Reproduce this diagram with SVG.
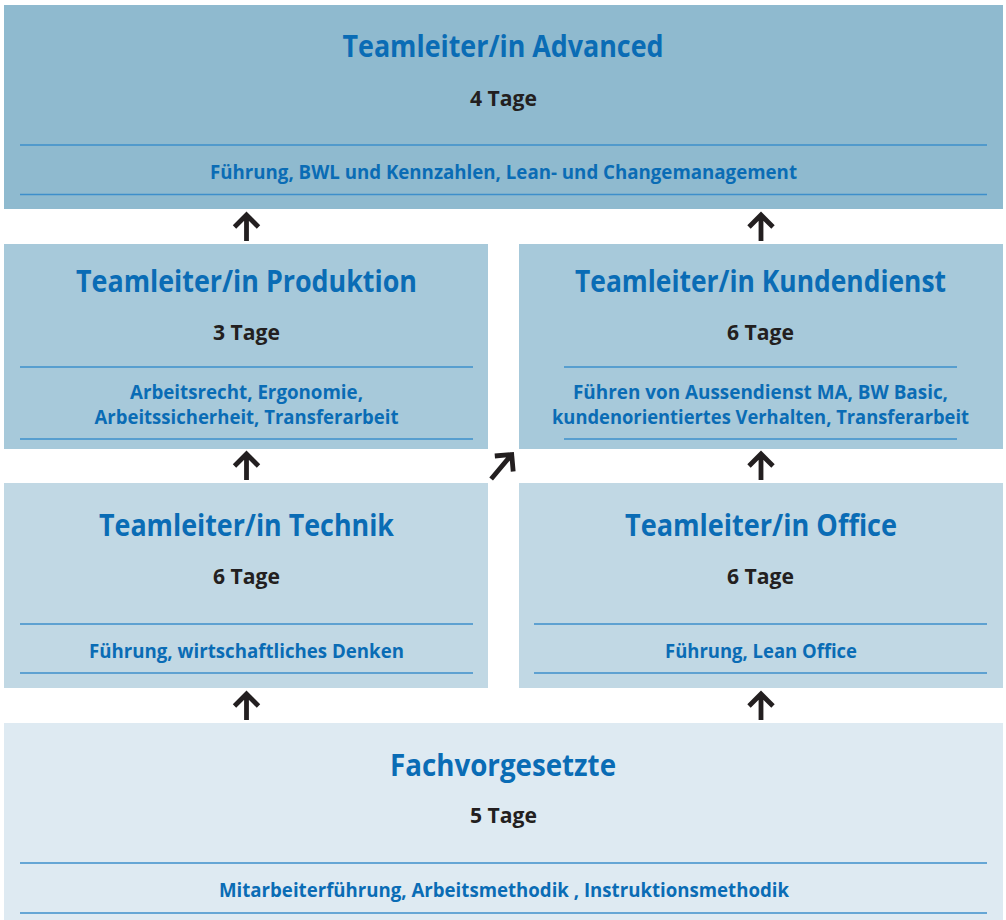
<svg xmlns="http://www.w3.org/2000/svg" xmlns:xlink="http://www.w3.org/1999/xlink" width="1006" height="920" viewBox="0 0 1006 920">
<style>
text{font-family:"Open Sans","Noto Sans","Liberation Sans",sans-serif;font-weight:bold;text-anchor:middle}
.t{fill:#0a6cb5;font-size:30px}
.d{fill:#231f20;font-size:21px}
.s{fill:#0a6cb5;font-size:19.5px}
.l{stroke:#3d8fcb;stroke-width:1.6}
.c1{fill:#8fbacf}.c2{fill:#a7c9da}.c3{fill:#c1d8e4}.c4{fill:#deeaf2}
.a{fill:none;stroke:#231f20;stroke-width:4.8;stroke-linejoin:miter;stroke-miterlimit:4}
</style>
<defs>
<path id="arr" class="a" d="M0,28 V1 M-12,14 L0,2 L12,14"/>
</defs>
<rect width="1006" height="920" fill="#ffffff"/>
<g id="advanced">
<rect class="c1" x="4" y="5" width="999" height="204"/>
<text class="t" x="503" y="57" textLength="321" lengthAdjust="spacingAndGlyphs">Teamleiter/in Advanced</text>
<text class="d" x="503.5" y="106" textLength="67" lengthAdjust="spacingAndGlyphs">4 Tage</text>
<line class="l" x1="20" y1="145" x2="987" y2="145"/>
<text class="s" x="503.5" y="179" textLength="587" lengthAdjust="spacingAndGlyphs">Führung, BWL und Kennzahlen, Lean- und Changemanagement</text>
<line class="l" x1="20" y1="194.5" x2="987" y2="194.5"/>
</g>
<g id="produktion">
<rect class="c2" x="4" y="244" width="484" height="205"/>
<text class="t" x="246.5" y="292" textLength="341" lengthAdjust="spacingAndGlyphs">Teamleiter/in Produktion</text>
<text class="d" x="246.5" y="340" textLength="67" lengthAdjust="spacingAndGlyphs">3 Tage</text>
<line class="l" x1="20" y1="367" x2="473" y2="367"/>
<text class="s" x="246.5" y="399" textLength="233" lengthAdjust="spacingAndGlyphs">Arbeitsrecht, Ergonomie,</text>
<text class="s" x="246.5" y="424" textLength="304" lengthAdjust="spacingAndGlyphs">Arbeitssicherheit, Transferarbeit</text>
<line class="l" x1="20" y1="439" x2="473" y2="439"/>
</g>
<g id="kundendienst">
<rect class="c2" x="519" y="244" width="484" height="205"/>
<text class="t" x="760.5" y="292" textLength="371" lengthAdjust="spacingAndGlyphs">Teamleiter/in Kundendienst</text>
<text class="d" x="760.5" y="340" textLength="67" lengthAdjust="spacingAndGlyphs">6 Tage</text>
<line class="l" x1="564" y1="367" x2="957" y2="367"/>
<text class="s" x="760.5" y="399" textLength="375" lengthAdjust="spacingAndGlyphs">Führen von Aussendienst MA, BW Basic,</text>
<text class="s" x="760.5" y="424" textLength="417" lengthAdjust="spacingAndGlyphs">kundenorientiertes Verhalten, Transferarbeit</text>
<line class="l" x1="564" y1="439" x2="957" y2="439"/>
</g>
<g id="technik">
<rect class="c3" x="4" y="483" width="484" height="205"/>
<text class="t" x="246.5" y="536" textLength="295" lengthAdjust="spacingAndGlyphs">Teamleiter/in Technik</text>
<text class="d" x="246.5" y="584" textLength="67" lengthAdjust="spacingAndGlyphs">6 Tage</text>
<line class="l" x1="20" y1="624" x2="473" y2="624"/>
<text class="s" x="246.5" y="658" textLength="315" lengthAdjust="spacingAndGlyphs">Führung, wirtschaftliches Denken</text>
<line class="l" x1="20" y1="673" x2="473" y2="673"/>
</g>
<g id="office">
<rect class="c3" x="519" y="483" width="484" height="205"/>
<text class="t" x="761" y="536" textLength="272" lengthAdjust="spacingAndGlyphs">Teamleiter/in Office</text>
<text class="d" x="760.5" y="584" textLength="67" lengthAdjust="spacingAndGlyphs">6 Tage</text>
<line class="l" x1="534" y1="624" x2="987" y2="624"/>
<text class="s" x="761" y="658" textLength="192" lengthAdjust="spacingAndGlyphs">Führung, Lean Office</text>
<line class="l" x1="534" y1="673" x2="987" y2="673"/>
</g>
<g id="fachvorgesetzte">
<rect class="c4" x="4" y="723" width="999" height="197"/>
<text class="t" x="503" y="776" textLength="226" lengthAdjust="spacingAndGlyphs">Fachvorgesetzte</text>
<text class="d" x="503.5" y="823" textLength="67" lengthAdjust="spacingAndGlyphs">5 Tage</text>
<line class="l" x1="20" y1="863" x2="987" y2="863"/>
<text class="s" x="504" y="897" textLength="570" lengthAdjust="spacingAndGlyphs">Mitarbeiterführung, Arbeitsmethodik , Instruktionsmethodik</text>
<line class="l" x1="20" y1="913" x2="987" y2="913"/>
</g>
<g id="connectors">
<use xlink:href="#arr" transform="translate(246.5,213)"/>
<use xlink:href="#arr" transform="translate(761,213)"/>
<use xlink:href="#arr" transform="translate(246.5,452)"/>
<use xlink:href="#arr" transform="translate(761,452)"/>
<use xlink:href="#arr" transform="translate(246.5,692)"/>
<use xlink:href="#arr" transform="translate(761,692)"/>
<path class="a" transform="translate(513,453) rotate(40)" d="M0,34 V1 M-12,14 L0,2 L12,14"/>
</g>
</svg>
